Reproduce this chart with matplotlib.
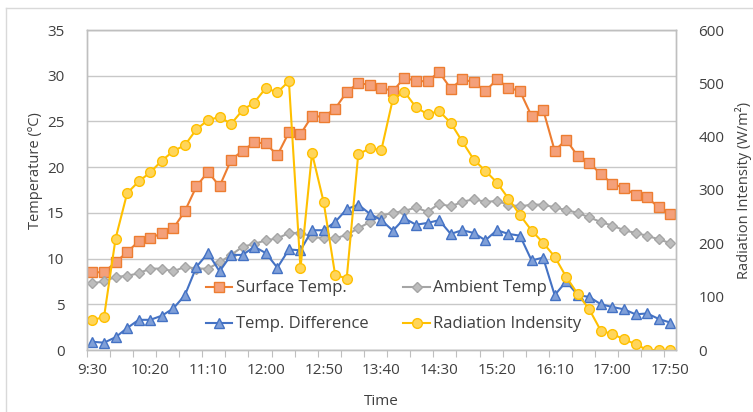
import matplotlib
matplotlib.use("Agg")
import matplotlib.pyplot as plt
import numpy as np

times = ["9:30","9:40","9:50","10:00","10:10","10:20","10:30","10:40","10:50","11:00",
         "11:10","11:20","11:30","11:40","11:50","12:00","12:10","12:20","12:30","12:40",
         "12:50","13:00","13:10","13:20","13:30","13:40","13:50","14:00","14:10","14:20",
         "14:30","14:40","14:50","15:00","15:10","15:20","15:30","15:40","15:50","16:00",
         "16:10","16:20","16:30","16:40","16:50","17:00","17:10","17:20","17:30","17:40","17:50"]

surface = [8.5, 8.5, 9.6, 10.7, 11.9, 12.2, 12.8, 13.3, 15.2, 17.9,
           19.5, 17.9, 20.8, 21.8, 22.7, 22.6, 21.3, 23.8, 23.6, 25.6,
           25.5, 26.4, 28.2, 29.2, 29.0, 28.7, 28.3, 29.8, 29.4, 29.4,
           30.4, 28.6, 29.6, 29.3, 28.3, 29.6, 28.7, 28.3, 25.6, 26.3,
           21.8, 23.0, 21.2, 20.5, 19.2, 18.2, 17.7, 17.0, 16.7, 15.6, 14.85]

ambient = [7.3, 7.5, 8.0, 8.1, 8.4, 8.9, 8.9, 8.6, 9.1, 8.9,
           8.9, 9.6, 10.4, 11.3, 11.6, 12.0, 12.2, 12.8, 12.8, 12.4,
           12.2, 12.2, 12.6, 13.3, 14.0, 14.7, 15.0, 15.2, 15.6, 15.1,
           16.0, 15.7, 16.2, 16.5, 16.2, 16.3, 15.9, 15.7, 15.9, 15.9,
           15.6, 15.3, 15.0, 14.5, 14.0, 13.6, 13.1, 12.8, 12.5, 12.1, 11.7]

difference = [0.9, 0.8, 1.4, 2.4, 3.3, 3.3, 3.75, 4.55, 6.0, 9.1,
              10.6, 8.6, 10.4, 10.4, 11.3, 10.6, 9.0, 11.0, 10.9, 13.1,
              13.1, 14.0, 15.4, 15.9, 14.9, 14.2, 13.05, 14.4, 13.7, 13.9,
              14.2, 12.7, 13.1, 12.8, 12.0, 13.1, 12.7, 12.5, 9.8, 10.1,
              6.0, 7.5, 6.0, 5.8, 5.0, 4.7, 4.45, 3.9, 4.0, 3.4, 3.0]

radiation = [56, 62, 209, 294, 316, 333, 355, 373, 384, 414,
             431, 437, 424, 450, 464, 491, 483, 504, 153, 369,
             278, 141, 134, 367, 378, 375, 471, 484, 455, 442,
             448, 426, 391, 357, 336, 314, 284, 253, 224, 201,
             175, 137, 105, 76, 36, 30, 20, 11, 0, 0, 0]

temp_ticks = [0, 5, 10, 15, 20, 25, 30, 35]
rad_ticks = [0, 100, 200, 300, 400, 500, 600]

FONT = "Open Sans"
plt.rcParams['font.family'] = [FONT, 'DejaVu Sans']
TXT = "#404040"

fig = plt.figure(figsize=(7.53, 4.12), dpi=100)
W, H = 753, 412
left, right, top, bottom = 86.7, 676, 30, 350
ax = fig.add_axes([left / W, 1 - bottom / H, (right - left) / W, (bottom - top) / H])
ax2 = ax.twinx()

n = len(times)
x = np.arange(n)
ax.set_xlim(-0.5, n - 0.5)
ax.set_ylim(0, 35)
ax2.set_ylim(0, 600)

ax.set_yticks(temp_ticks)
ax2.set_yticks(rad_ticks)
ax.yaxis.grid(True, color="#C8C8C8", lw=1)
ax.set_axisbelow(True)

# x ticks: marks every 2 categories at boundaries; labels every 5 categories
label_idx = x[::5]
ax.set_xticks(np.arange(-0.5, n, 2))
ax.set_xticklabels([])
ax.set_xticks(label_idx, minor=True)
ax.set_xticklabels([times[i] for i in label_idx], minor=True)
ax.tick_params(axis="x", which="major", length=5, color="#BFBFBF", direction="out")
ax.tick_params(axis="x", which="minor", length=0, pad=9, labelsize=11, labelcolor=TXT)
ax.tick_params(axis="y", length=0, pad=16, labelsize=11, labelcolor=TXT)
ax2.tick_params(axis="y", length=0, pad=16, labelsize=11, labelcolor=TXT)

for a in (ax, ax2):
    for s in a.spines.values():
        s.set_color("#BFBFBF")
        s.set_linewidth(1)

ms = 7
l1, = ax.plot(x, surface, color="#ED7D31", lw=1.5, marker="s", ms=ms,
              mfc="#F4A07A", mec="#ED7D31", mew=1, label="Surface Temp.")
l2, = ax.plot(x, ambient, color="#A5A5A5", lw=1.5, marker="D", ms=5,
              mfc="#BDBDBD", mec="#A5A5A5", mew=1, label="Ambient Temp")
l3, = ax.plot(x, difference, color="#4472C4", lw=1.5, marker="^", ms=ms,
              mfc="#7F9FD8", mec="#4472C4", mew=1, label="Temp. Difference")
l4, = ax2.plot(x, radiation, color="#FFC000", lw=1.5, marker="o", ms=ms,
               mfc="#FFD55A", mec="#FFC000", mew=1, label="Radiation Indensity")

cx, cy = 393.5, 306.5
leg = ax2.legend(handles=[l1, l3, l2, l4], ncol=2, loc="center",
                 bbox_to_anchor=((cx - left) / (right - left), (bottom - cy) / (bottom - top)),
                 frameon=False, fontsize=12, handlelength=1.6, handletextpad=0.2,
                 columnspacing=2.1, labelspacing=1.2, labelcolor=TXT,
                 borderpad=0.2)
leg.set_zorder(10)

ax.set_xlabel("Time", fontsize=11, color=TXT, labelpad=12)
ax.set_ylabel("Temperature (ºC)", fontsize=10.5, color=TXT)
ax.yaxis.set_label_coords(-0.075, 0.56)
ax2.set_ylabel("Radiation Intensity (W/m²)", fontsize=10.5, color=TXT, labelpad=8)

# chart area border (left and top)
fig.add_artist(plt.Line2D([6 / W, 6 / W], [0, 1 - 8 / H], transform=fig.transFigure, color="#D9D9D9", lw=1))
fig.add_artist(plt.Line2D([6 / W, 1], [1 - 8 / H, 1 - 8 / H], transform=fig.transFigure, color="#D9D9D9", lw=1))

fig.savefig("out.png", dpi=100)
